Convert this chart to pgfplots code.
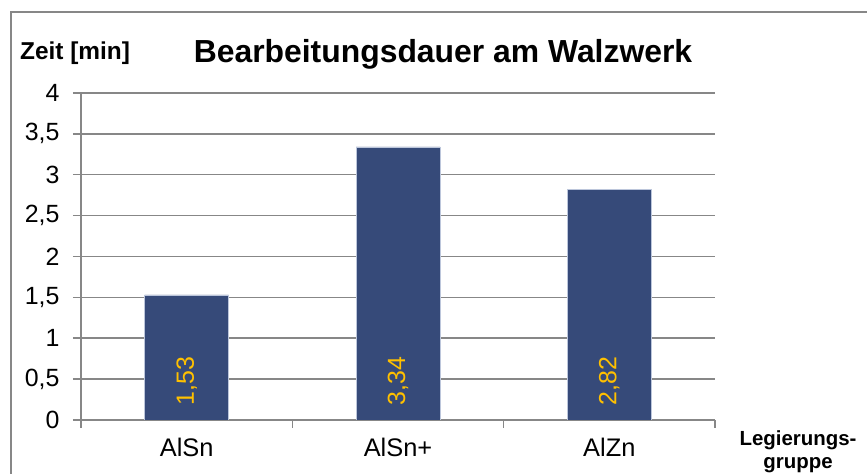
\documentclass[border=0pt]{standalone}
\usepackage{pgfplots}
\pgfplotsset{compat=1.18}
\usepackage{fontspec}
\setmainfont{Liberation Sans}
\definecolor{barblue}{HTML}{364A79}
\definecolor{gridgray}{HTML}{878787}
\definecolor{gold}{HTML}{FFC000}
\definecolor{baredge}{HTML}{BCC6DB}
\begin{document}
\begin{tikzpicture}
\path[use as bounding box] (0,0) rectangle (867bp,474bp);
\draw[gridgray, line width=1.5bp] (11bp,-30bp) rectangle (900bp,462bp);
\begin{axis}[
  at={(81bp,54bp)}, anchor=south west,
  scale only axis, width=634bp, height=327bp,
  xmin=-0.5, xmax=2.5, ymin=0, ymax=4,
  ybar, bar width=84bp,
  axis x line*=bottom, axis y line*=left,
  axis line style={draw=gridgray, line width=1.5bp},
  ytick={0,0.5,...,4},
  ymajorgrids, grid style={draw=gridgray, line width=1.5bp},
  tick align=outside, major tick length=8bp,
  tick style={draw=gridgray, line width=1.5bp},
  /pgf/number format/assume math mode=true,
  /pgf/number format/use comma,
  yticklabel style={font=\fontsize{25}{29}\selectfont, xshift=-10bp},
  xtick={-0.5,0.5,1.5,2.5}, xticklabels={},
  extra x ticks={0,1,2},
  extra x tick labels={AlSn,AlSn+,AlZn},
  extra x tick style={major tick length=0pt, grid=none},
  xticklabel style={font=\fontsize{25.5}{29}\selectfont, anchor=base, yshift=-36bp},
  visualization depends on={y \as \rawy},
  nodes near coords={\pgfmathprintnumber[fixed,fixed zerofill,precision=2,use comma]{\rawy}},
  every node near coord/.append style={shift={(axis direction cs:0,-\rawy)}, yshift=14.5bp, rotate=90, anchor=west, inner sep=0pt, text=gold, font=\fontsize{25}{29}\selectfont},
]
\addplot[fill=barblue, draw=baredge, line width=0.8bp] coordinates {(0,1.53) (1,3.34) (2,2.82)};
\end{axis}
\node[anchor=base, font=\bfseries\fontsize{32}{36}\selectfont] at (443bp,411bp) {Bearbeitungsdauer am Walzwerk};
\node[anchor=base west, inner sep=0pt, font=\bfseries\fontsize{24.5}{28}\selectfont] at (20bp,414bp) {Zeit [min]};
\node[anchor=base, font=\bfseries\fontsize{20.5}{23}\selectfont] at (798bp,29bp) {Legierungs-};
\node[anchor=base, font=\bfseries\fontsize{20.5}{23}\selectfont] at (798bp,6bp) {gruppe};
\end{tikzpicture}
\end{document}
